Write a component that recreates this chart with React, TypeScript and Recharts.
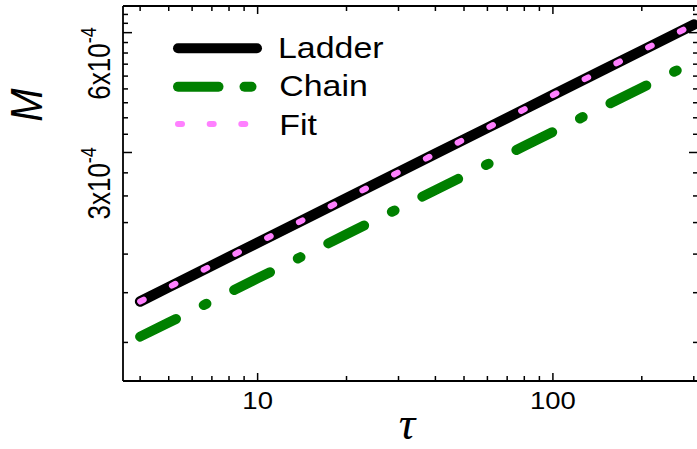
import React from 'react';
import { LineChart, Line, XAxis, YAxis, Legend } from 'recharts';

// ---- data ----
const tau = [4, 5, 6, 8, 10, 15, 20, 30, 40, 60, 80, 100, 150, 200, 300];
const ladder = [1.267e-4, 1.377e-4, 1.473e-4, 1.639e-4, 1.78e-4, 2.069e-4, 2.302e-4, 2.676e-4, 2.977e-4, 3.46e-4, 3.85e-4, 4.182e-4, 4.862e-4, 5.409e-4, 6.287e-4];
const chain = [1.034e-4, 1.122e-4, 1.2e-4, 1.335e-4, 1.449e-4, 1.681e-4, 1.869e-4, 2.17e-4, 2.413e-4, 2.801e-4, 3.113e-4, 3.381e-4, 3.924e-4, 4.362e-4, 5.064e-4];
const fit = [1.267e-4, 1.377e-4, 1.473e-4, 1.639e-4, 1.78e-4, 2.069e-4, 2.302e-4, 2.676e-4, 2.977e-4, 3.46e-4, 3.85e-4, 4.182e-4, 4.862e-4, 5.409e-4, 6.287e-4];

const xTicks = [4, 5, 6, 7, 8, 9, 10, 20, 30, 40, 50, 60, 70, 80, 90, 100, 200, 300];
const xMajorTicks = [10, 100];
const xMajorLabels = ['10', '100'];
const yTicks = [1.0e-4, 1.3333e-4, 1.6667e-4, 2.0e-4, 2.3333e-4, 2.6667e-4, 3.0e-4, 3.3333e-4, 3.6667e-4, 4.0e-4, 4.3333e-4, 4.6667e-4, 5.0e-4, 5.3333e-4, 5.6667e-4, 6.0e-4, 6.3333e-4, 6.6667e-4];
const yMajorTicks = [3e-4, 6e-4];
const yMajorMantissa = ['3x10', '6x10'];
const yMajorExponent = ['-4', '-4'];

const seriesNames = ['Ladder', 'Chain', 'Fit'];

const data = tau.map((t, i) => ({ tau: t, ladder: ladder[i], chain: chain[i], fit: fit[i] }));

const FONT = "'Liberation Sans', Arial, sans-serif";
const AXIS_W = 1.8;
const TICK_W = 1.5;

const majorIndex = (v: number, arr: number[]) => arr.findIndex((m) => Math.abs(v - m) / m < 1e-3);

const BottomTick = (props: any) => {
  const { x, y, payload } = props;
  const idx = majorIndex(payload.value, xMajorTicks);
  const major = idx >= 0;
  return (
    <g>
      <line x1={x} y1={y} x2={x} y2={y - (major ? 8 : 5)} stroke="#000" strokeWidth={TICK_W} />
      {major && (
        <text transform={`translate(${x},${y + 27.5}) scale(1.17,1)`} textAnchor="middle" fontSize={23.5} fontFamily={FONT} fill="#000">
          {xMajorLabels[idx]}
        </text>
      )}
    </g>
  );
};

const TopTick = (props: any) => {
  const { x, y, payload } = props;
  const major = majorIndex(payload.value, xMajorTicks) >= 0;
  return <line x1={x} y1={y} x2={x} y2={y + (major ? 8 : 5)} stroke="#000" strokeWidth={TICK_W} />;
};

const LeftTick = (props: any) => {
  const { x, y, payload } = props;
  const idx = majorIndex(payload.value, yMajorTicks);
  const major = idx >= 0;
  return (
    <g>
      <line x1={x} y1={y} x2={x + (major ? 9 : 5)} y2={y} stroke="#000" strokeWidth={TICK_W} />
      {major && (
        <text transform={`translate(${x - 13},${y + 67}) rotate(-90) scale(1,1.18)`} textAnchor="start" fontSize={26} fontFamily={FONT} fill="#000">
          {yMajorMantissa[idx]}
          <tspan fontSize={18} dy={-11.6}>{yMajorExponent[idx]}</tspan>
        </text>
      )}
    </g>
  );
};

const RightTick = (props: any) => {
  const { x, y, payload } = props;
  const major = majorIndex(payload.value, yMajorTicks) >= 0;
  return <line x1={x} y1={y} x2={x - (major ? 9 : 5)} y2={y} stroke="#000" strokeWidth={TICK_W} />;
};

const LegendBox = () => (
  <svg width={260} height={120} style={{ display: 'block', overflow: 'visible' }}>
    <line x1={18} y1={23.3} x2={97} y2={23.3} stroke="#000" strokeWidth={10} strokeLinecap="round" />
    <text transform="translate(118,33.3) scale(1.13,1)" fontSize={30} fontFamily={FONT} fill="#000">{seriesNames[0]}</text>
    <line x1={18} y1={61.7} x2={58.5} y2={61.7} stroke="#008000" strokeWidth={10} strokeLinecap="round" />
    <line x1={84.5} y1={61.7} x2={91.5} y2={61.7} stroke="#008000" strokeWidth={10} strokeLinecap="round" />
    <text transform="translate(119.3,71) scale(1.13,1)" fontSize={30} fontFamily={FONT} fill="#000">{seriesNames[1]}</text>
    <line x1={18} y1={99} x2={22} y2={99} stroke="#ff80ff" strokeWidth={6} strokeLinecap="round" />
    <line x1={49.7} y1={99} x2={53.7} y2={99} stroke="#ff80ff" strokeWidth={6} strokeLinecap="round" />
    <line x1={81.3} y1={99} x2={85.3} y2={99} stroke="#ff80ff" strokeWidth={6} strokeLinecap="round" />
    <text transform="translate(119.3,110) scale(1.13,1)" fontSize={30} fontFamily={FONT} fill="#000">{seriesNames[2]}</text>
  </svg>
);

const XTitle = () => (
  <text x={407} y={439} textAnchor="middle" fontSize={46} fontStyle="italic" fontFamily="'Liberation Serif', 'DejaVu Serif', serif" fill="#000">
    τ
  </text>
);

const YTitle = () => (
  <text transform="translate(41.7,105) rotate(-90) scale(1,1.1)" textAnchor="middle" fontSize={40} fontStyle="italic" fontFamily={FONT} fill="#000">
    M
  </text>
);

export default function App() {
  return (
    <div style={{ position: 'absolute', left: 0, top: 0, width: 697, height: 449, overflow: 'hidden', background: '#fff' }}>
      <LineChart width={700} height={449} data={data} margin={{ top: 5, right: 1, bottom: 67, left: 122 }}>
        <XAxis
          xAxisId="b"
          dataKey="tau"
          type="number"
          scale="log"
          domain={[3.5, 310]}
          allowDataOverflow
          ticks={xTicks}
          interval={0}
          height={1}
          tickSize={0}
          tickMargin={0}
          tickLine={false}
          tick={<BottomTick />}
          axisLine={{ stroke: '#000', strokeWidth: AXIS_W }}
          label={{ content: () => <XTitle /> }}
        />
        <XAxis
          xAxisId="t"
          orientation="top"
          dataKey="tau"
          type="number"
          scale="log"
          domain={[3.5, 310]}
          allowDataOverflow
          ticks={xTicks}
          interval={0}
          height={1}
          tickSize={0}
          tickMargin={0}
          tickLine={false}
          tick={<TopTick />}
          axisLine={{ stroke: '#000', strokeWidth: AXIS_W }}
        />
        <YAxis
          yAxisId="l"
          type="number"
          scale="log"
          domain={[0.8e-4, 7.0e-4]}
          allowDataOverflow
          ticks={yTicks}
          interval={0}
          width={1}
          tickSize={0}
          tickMargin={0}
          tickLine={false}
          tick={<LeftTick />}
          axisLine={{ stroke: '#000', strokeWidth: AXIS_W }}
          label={{ content: () => <YTitle /> }}
        />
        <YAxis
          yAxisId="r"
          orientation="right"
          type="number"
          scale="log"
          domain={[0.8e-4, 7.0e-4]}
          allowDataOverflow
          ticks={yTicks}
          interval={0}
          width={1}
          tickSize={0}
          tickMargin={0}
          tickLine={false}
          tick={<RightTick />}
          axisLine={{ stroke: '#000', strokeWidth: AXIS_W }}
        />
        <Legend
          layout="vertical"
          align="center"
          verticalAlign="middle"
          content={() => <LegendBox />}
          wrapperStyle={{ left: 160, top: 25, width: 260, height: 120 }}
        />
        <Line xAxisId="b" yAxisId="l" dataKey="ladder" name={seriesNames[0]} stroke="#000" strokeWidth={10.5} strokeLinecap="round" strokeLinejoin="round" dot={false} isAnimationActive={false} />
        <Line xAxisId="b" yAxisId="l" dataKey="chain" name={seriesNames[1]} stroke="#008000" strokeWidth={10} strokeLinecap="round" strokeLinejoin="round" strokeDasharray="40 31 3 31" dot={false} isAnimationActive={false} />
        <Line xAxisId="b" yAxisId="l" dataKey="fit" name={seriesNames[2]} stroke="#ff80ff" strokeWidth={6} strokeLinecap="round" strokeLinejoin="round" strokeDasharray="4 31.5" dot={false} isAnimationActive={false} />
      </LineChart>
    </div>
  );
}
